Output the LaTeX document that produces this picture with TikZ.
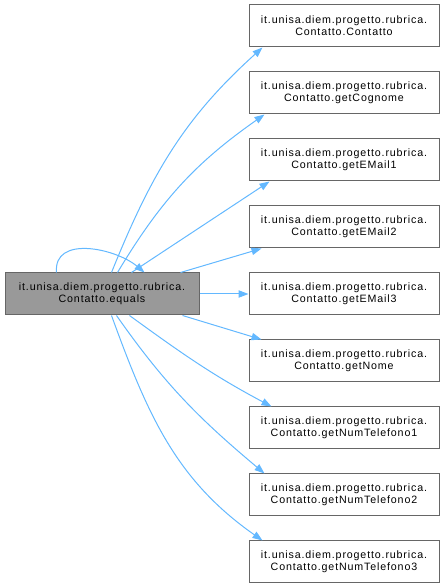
\documentclass[tikz,border=0pt]{standalone}
\usepackage{fontspec}
\setmainfont{Liberation Sans}[LetterSpace=8]
\usetikzlibrary{arrows.meta, positioning, calc}
\definecolor{edgeblue}{HTML}{63B8FF}
\definecolor{boxline}{HTML}{666666}
\definecolor{callerfill}{HTML}{999999}
\tikzstyle{callee} = [rectangle, draw=boxline, fill=white, line width=0.75pt, minimum width=142.5pt, minimum height=31.5pt, inner sep=0pt, align=center, font=\fontsize{8}{9}\selectfont]
\tikzstyle{caller} = [callee, minimum width=145.5pt, fill=callerfill]
\tikzstyle{arrow} = [draw=edgeblue, line width=0.75pt, -{Triangle[length=7.5pt,width=5.5pt]}]

\begin{document}
\begin{tikzpicture}[x=0.75pt, y=0.75pt, node distance=18pt]
        \useasboundingbox (0,0) rectangle (445,587);
        \node[caller] (equals) at (102,293) {it.unisa.diem.progetto.rubrica.\\Contatto.equals};
        \node[callee] (ctor) at (344,561) {it.unisa.diem.progetto.rubrica.\\Contatto.Contatto};
        \node[callee, below=of ctor] (cognome) {it.unisa.diem.progetto.rubrica.\\Contatto.getCognome};
        \node[callee, below=of cognome] (mail1) {it.unisa.diem.progetto.rubrica.\\Contatto.getEMail1};
        \node[callee, below=of mail1] (mail2) {it.unisa.diem.progetto.rubrica.\\Contatto.getEMail2};
        \node[callee, right=36.75pt of equals] (mail3) {it.unisa.diem.progetto.rubrica.\\Contatto.getEMail3};
        \node[callee, below=of mail3] (nome) {it.unisa.diem.progetto.rubrica.\\Contatto.getNome};
        \node[callee, below=of nome] (tel1) {it.unisa.diem.progetto.rubrica.\\Contatto.getNumTelefono1};
        \node[callee, below=of tel1] (tel2) {it.unisa.diem.progetto.rubrica.\\Contatto.getNumTelefono2};
        \node[callee, below=of tel2] (tel3) {it.unisa.diem.progetto.rubrica.\\Contatto.getNumTelefono3};

        % calls from equals
        \draw[arrow] ($(equals.north west)+(52,0)$) to[out=95, in=140, looseness=1.1] ($(equals.north west)+(140,0)$);
        \draw[arrow] ($(equals.north west)+(107,0)$) to[out=68, in=222] ($(ctor.south west)+(14,0)$);
        \draw[arrow] ($(equals.north west)+(113,0)$) to[out=59, in=215] ($(cognome.south west)+(16,0)$);
        \draw[arrow] ($(equals.north west)+(127,0)$) -- ($(mail1.south west)+(21,0)$);
        \draw[arrow] ($(equals.north east)+(-19,0)$) -- ($(mail2.south west)+(13,0)$);
        \draw[arrow] (equals.east) -- (mail3.west);
        \draw[arrow] ($(equals.south east)+(-17,0)$) -- ($(nome.north west)+(13,0)$);
        \draw[arrow] ($(equals.south west)+(125,0)$) to[out=-36, in=152] ($(tel1.north west)+(23,0)$);
        \draw[arrow] ($(equals.south west)+(112,0)$) to[out=-55, in=140] ($(tel2.north west)+(16,0)$);
        \draw[arrow] ($(equals.south west)+(107,0)$) to[out=-70, in=145] ($(tel3.north west)+(14,0)$);
\end{tikzpicture}
\end{document}
